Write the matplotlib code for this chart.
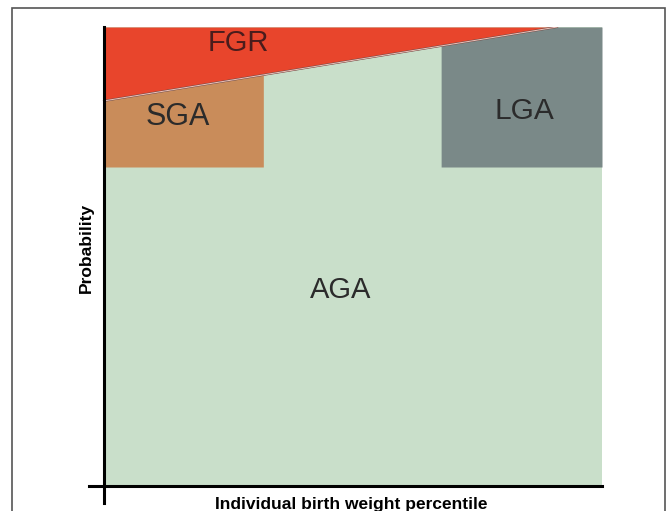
import matplotlib.pyplot as plt
import numpy as np
from matplotlib.patches import Rectangle

# regions in (percentile, probability) space
fgr_line_x = [0, 91, 100]
fgr_line_y = [0.839, 1.0, 1.0]
sga_x = [0, 32]
sga_y_low = 0.695
lga_x = [67.7, 100]
lga_y_low = 0.695
labels = ['FGR', 'SGA', 'LGA', 'AGA']
label_x = [26.9, 14.9, 84.5, 47.6]
label_y = [0.965, 0.804, 0.817, 0.427]

plt.rcParams['font.family'] = ['Liberation Sans', 'DejaVu Sans']

fig = plt.figure(figsize=(6.68, 5.11), dpi=100)
ax = fig.add_axes([89 / 668, 1 - 503 / 511, 513 / 668, 476 / 511])

lx = np.array(fgr_line_x)
ly = np.array(fgr_line_y)

# AGA background
ax.fill_between([0, 100], 0, 1, color='#c9dfca', linewidth=0)

# FGR wedge above the line
ax.fill_between(lx, ly, 1, color='#e8452c', linewidth=0, zorder=2)

# SGA box under the line
sx = np.linspace(sga_x[0], sga_x[1], 50)
ax.fill_between(sx, sga_y_low, np.interp(sx, lx, ly), color='#c98c5a', linewidth=0, zorder=2)

# LGA box under the line
gx = np.linspace(lga_x[0], lga_x[1], 50)
ax.fill_between(gx, lga_y_low, np.interp(gx, lx, ly), color='#7a8988', linewidth=0, zorder=2)

# boundary of the FGR wedge
ax.plot(lx[:2], ly[:2], color='#6a4a46', linewidth=1.4, zorder=3)
ax.plot(lx[:2], ly[:2], color='#f2c4bc', linewidth=0.7, zorder=3)

colors = ['#4a1c1c', '#2b2b2b', '#2b2b2b', '#2b2b2b']
sizes = [21, 22, 21.5, 21]
for lab, x, y, c, fs in zip(labels, label_x, label_y, colors, sizes):
    ax.text(x, y, lab, fontsize=fs, color=c, ha='center', va='center', zorder=4)

ax.set_xlim(-3, 100)
ax.set_ylim(-0.037, 1)
for s in ['top', 'right']:
    ax.spines[s].set_visible(False)
ax.spines['left'].set_position(('data', 0))
ax.spines['bottom'].set_position(('data', 0))
ax.spines['left'].set_linewidth(2.2)
ax.spines['bottom'].set_linewidth(2.2)
ax.spines['left'].set_zorder(5)
ax.spines['bottom'].set_zorder(5)
ax.set_xticks([])
ax.set_yticks([])
ax.patch.set_visible(False)

fig.text(351 / 668, 1 - 504 / 511, 'Individual birth weight percentile',
         fontsize=12.5, fontweight='bold', ha='center', va='center')
fig.text(86 / 668, 1 - 248 / 511, 'Probability', fontsize=12.5, fontweight='bold',
         rotation=90, ha='center', va='center')

# outer frame
fig.patches.append(Rectangle((12 / 668, -0.05), 653 / 668, 1.05 - 8 / 511,
                             transform=fig.transFigure, fill=False,
                             edgecolor='#555555', linewidth=1.2))

plt.savefig('out.png', dpi=100)
